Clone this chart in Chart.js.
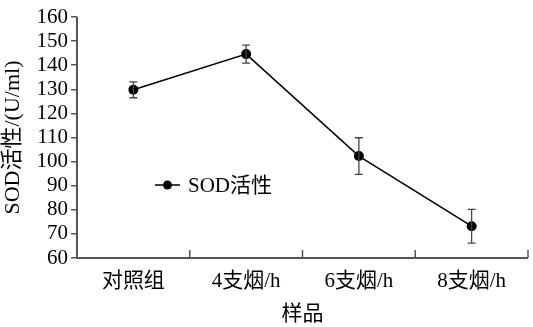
<!DOCTYPE html>
<html>
<head>
<meta charset="utf-8">
<script src="https://cdn.jsdelivr.net/npm/chart.js@4.4.1/dist/chart.umd.min.js"></script>
<style>
  html, body { margin: 0; padding: 0; background: #fff; }
  #wrap { width: 533px; height: 327px; }
</style>
</head>
<body>
<div id="wrap"><canvas id="c" width="533" height="327"></canvas></div>
<script>
// Samples and SOD activity (U/ml), mean and error
const categories = ['对照组', '4支烟/h', '6支烟/h', '8支烟/h'];
const sodValues = [129.8, 144.6, 102.3, 73.2];
const sodErrors = [3.3, 3.7, 7.6, 7.0];
const seriesName = 'SOD活性';
const yTicks = [60, 70, 80, 90, 100, 110, 120, 130, 140, 150, 160];

const FONT = '"Liberation Serif", "Times New Roman", "Noto Sans CJK SC", serif';
const AXIS_COLOR = '#555';

// Error bars with caps, positioned through the scales
const errorBars = {
  id: 'errorBars',
  afterDatasetsDraw(chart) {
    const { ctx, scales: { x, y } } = chart;
    ctx.save();
    ctx.strokeStyle = '#444';
    ctx.lineWidth = 1.3;
    sodValues.forEach((v, i) => {
      const px = x.getPixelForValue(i);
      const top = y.getPixelForValue(v + sodErrors[i]);
      const bot = y.getPixelForValue(v - sodErrors[i]);
      ctx.beginPath();
      ctx.moveTo(px, top); ctx.lineTo(px, bot);
      ctx.moveTo(px - 4, top); ctx.lineTo(px + 4, top);
      ctx.moveTo(px - 4, bot); ctx.lineTo(px + 4, bot);
      ctx.stroke();
    });
    ctx.restore();
  }
};

// Axis lines and inward category-boundary ticks
const axes = {
  id: 'axes',
  afterDraw(chart) {
    const { ctx, chartArea: a, scales: { x } } = chart;
    ctx.save();
    ctx.strokeStyle = AXIS_COLOR;
    ctx.lineWidth = 2;
    ctx.beginPath();
    ctx.moveTo(a.left, a.top);
    ctx.lineTo(a.left, a.bottom);
    ctx.lineTo(a.right, a.bottom);
    ctx.stroke();
    ctx.lineWidth = 1.5;
    ctx.beginPath();
    for (let i = 0; i < categories.length; i++) {
      const bx = x.getPixelForValue(i) + (x.getPixelForValue(1) - x.getPixelForValue(0)) / 2;
      ctx.moveTo(bx, a.bottom);
      ctx.lineTo(bx, a.bottom - 8);
    }
    ctx.stroke();
    ctx.restore();
  }
};

// Legend drawn inside the plot area
const innerLegend = {
  id: 'innerLegend',
  afterDraw(chart) {
    const { ctx } = chart;
    const lx = 155, ly = 185;
    ctx.save();
    ctx.strokeStyle = '#000';
    ctx.lineWidth = 1.5;
    ctx.beginPath();
    ctx.moveTo(lx, ly); ctx.lineTo(lx + 25, ly);
    ctx.stroke();
    ctx.fillStyle = '#000';
    ctx.beginPath();
    ctx.arc(lx + 12.5, ly, 4.5, 0, Math.PI * 2);
    ctx.fill();
    ctx.font = '21px ' + FONT;
    ctx.textBaseline = 'middle';
    ctx.fillText(seriesName, lx + 33, ly + 1);
    ctx.restore();
  }
};

new Chart(document.getElementById('c'), {
  type: 'line',
  data: {
    labels: categories,
    datasets: [{
      label: seriesName,
      data: sodValues,
      borderColor: '#000',
      borderWidth: 1.5,
      backgroundColor: '#000',
      pointRadius: 5,
      pointBackgroundColor: '#000',
      pointBorderWidth: 0,
      tension: 0,
      fill: false
    }]
  },
  options: {
    responsive: false,
    animation: false,
    layout: { padding: { top: 17, right: 2, left: 0, bottom: 0 } },
    plugins: { legend: { display: false }, tooltip: { enabled: false } },
    scales: {
      x: {
        type: 'category',
        offset: true,
        grid: { display: false },
        border: { display: false },
        ticks: { color: '#000', font: { family: FONT, size: 21 }, padding: 3, maxRotation: 0 },
        title: { display: true, text: '样品', color: '#000', font: { family: FONT, size: 21 }, padding: { top: 10, bottom: 0 } },
        afterFit(s) { s.height = 69; }
      },
      y: {
        min: 60, max: 160,
        afterBuildTicks(s) { s.ticks = yTicks.map(v => ({ value: v })); },
        grid: { drawOnChartArea: false, drawTicks: true, tickLength: 6, color: AXIS_COLOR, lineWidth: 1.5 },
        border: { display: false },
        ticks: { color: '#000', font: { family: FONT, size: 21 }, padding: 3, autoSkip: false },
        title: { display: true, text: 'SOD活性/(U/ml)', color: '#000', font: { family: FONT, size: 22 }, padding: { top: 0, bottom: 1 } },
        afterFit(s) { s.width = 77; }
      }
    }
  },
  plugins: [errorBars, axes, innerLegend]
});
</script>
</body>
</html>
